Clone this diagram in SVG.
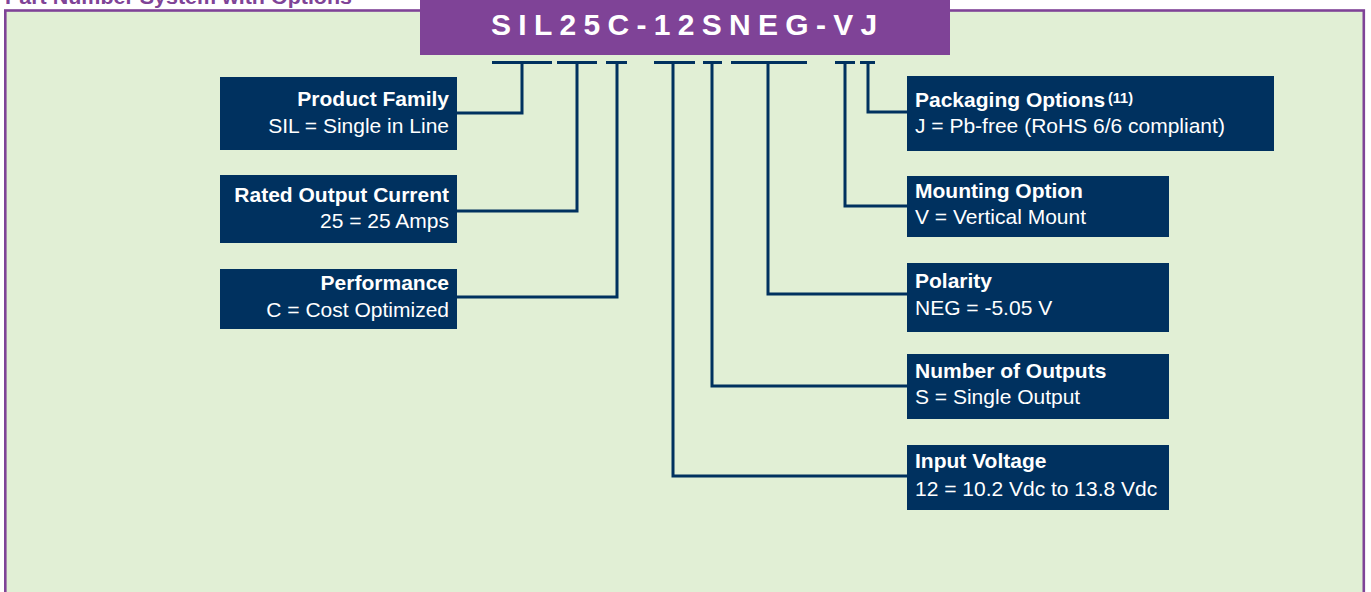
<svg xmlns="http://www.w3.org/2000/svg" width="1371" height="592" viewBox="0 0 1371 592">
<style>
.box{fill:#00315f}
.t{font-family:"Liberation Sans",Arial,sans-serif;font-size:21px;fill:#ffffff}
.b{font-weight:bold}
.r{text-anchor:end}
.c{fill:none;stroke:#00315f;stroke-width:3}
</style>
<rect x="0" y="0" width="1371" height="592" fill="#ffffff"/>
<rect x="5.3" y="10.5" width="1358.5" height="600" fill="#e1efd5" stroke="#7f4397" stroke-width="2.6"/>
<text x="5" y="3.5" font-family="'Liberation Sans',Arial,sans-serif" font-weight="bold" font-size="20" fill="#7f4397" textLength="347" lengthAdjust="spacingAndGlyphs">Part Number System with Options</text>
<g id="header">
<rect x="420" y="0" width="530" height="55" fill="#7f4397"/>
<text x="491" y="35" font-family="'Liberation Sans',Arial,sans-serif" font-weight="bold" font-size="30" fill="#ffffff" letter-spacing="7.3">SIL25C-12SNEG-VJ</text>
</g>
<g id="connectors">
<path class="c" d="M492 62.5H552M522 62.5V113H457"/>
<path class="c" d="M557 62.5H597M577 62.5V211H457"/>
<path class="c" d="M606 62.5H627M617 62.5V297H457"/>
<path class="c" d="M654 62.5H695M673 62.5V476H907"/>
<path class="c" d="M703 62.5H722M712 62.5V386H907"/>
<path class="c" d="M731 62.5H807M768 62.5V294H907"/>
<path class="c" d="M835 62.5H855M845 62.5V206H907"/>
<path class="c" d="M860 62.5H875M868 62.5V112H907"/>
</g>
<g id="product-family">
<rect class="box" x="220" y="77" width="237" height="73"/>
<text class="t b r" x="449" y="106">Product Family</text>
<text class="t r" x="449" y="133">SIL = Single in Line</text>
</g>
<g id="rated-output-current">
<rect class="box" x="220" y="175" width="237" height="68"/>
<text class="t b r" x="449" y="202">Rated Output Current</text>
<text class="t r" x="449" y="228">25 = 25 Amps</text>
</g>
<g id="performance">
<rect class="box" x="220" y="269" width="237" height="60"/>
<text class="t b r" x="449" y="290">Performance</text>
<text class="t r" x="449" y="317">C = Cost Optimized</text>
</g>
<g id="packaging-options">
<rect class="box" x="907" y="76" width="367" height="75"/>
<text class="t b" x="915" y="107">Packaging Options</text>
<text x="1108" y="103" font-family="'Liberation Sans',Arial,sans-serif" font-weight="bold" font-size="14.5" fill="#ffffff">(11)</text>
<text class="t" x="915" y="133">J = Pb-free (RoHS 6/6 compliant)</text>
</g>
<g id="mounting-option">
<rect class="box" x="907" y="176" width="262" height="61"/>
<text class="t b" x="915" y="198">Mounting Option</text>
<text class="t" x="915" y="224">V = Vertical Mount</text>
</g>
<g id="polarity">
<rect class="box" x="907" y="263" width="262" height="69"/>
<text class="t b" x="915" y="288">Polarity</text>
<text class="t" x="915" y="315">NEG = -5.05 V</text>
</g>
<g id="number-of-outputs">
<rect class="box" x="907" y="354" width="262" height="65"/>
<text class="t b" x="915" y="378">Number of Outputs</text>
<text class="t" x="915" y="404">S = Single Output</text>
</g>
<g id="input-voltage">
<rect class="box" x="907" y="445" width="262" height="65"/>
<text class="t b" x="915" y="468">Input Voltage</text>
<text class="t" x="915" y="496">12 = 10.2 Vdc to 13.8 Vdc</text>
</g>
</svg>
